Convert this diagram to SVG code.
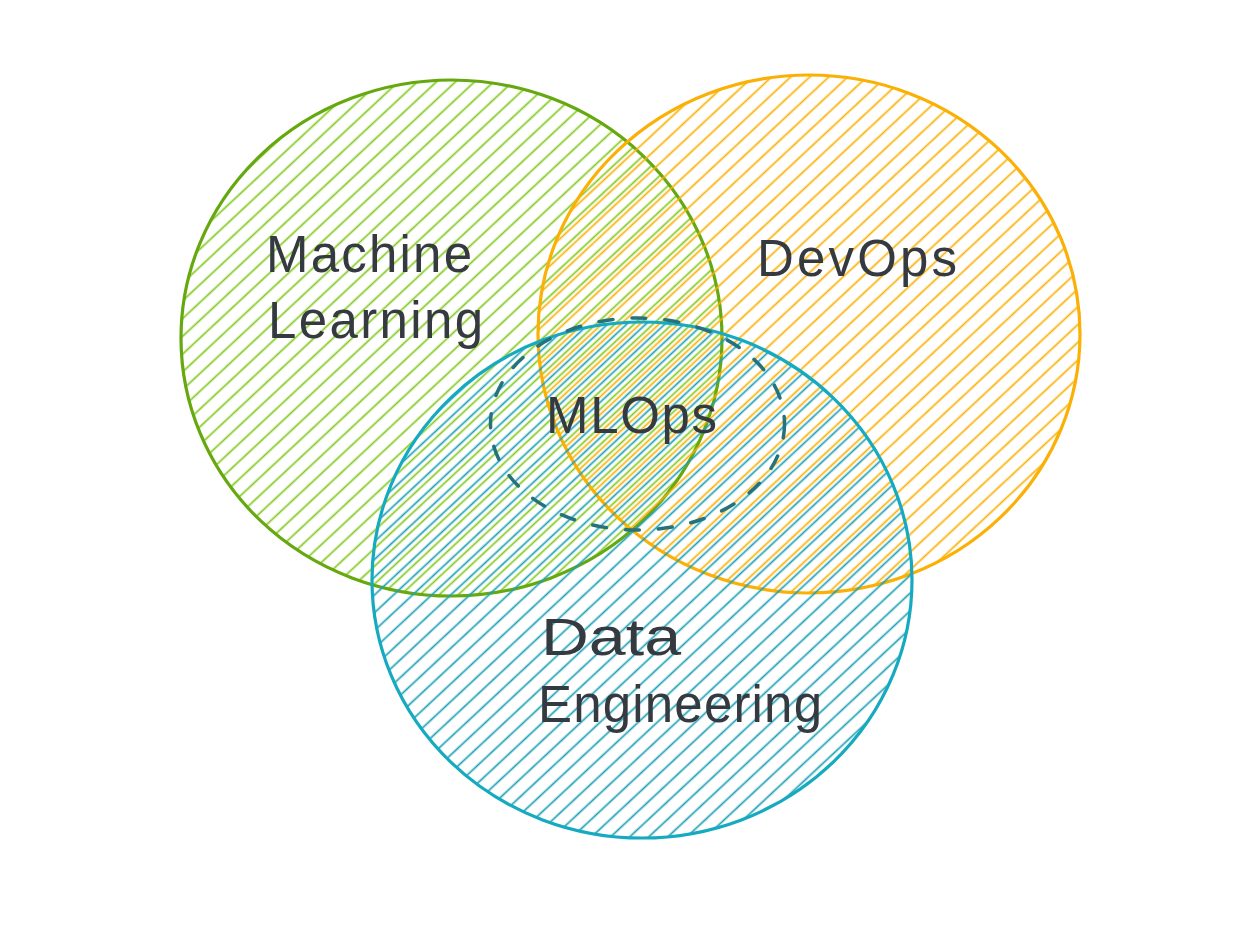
<svg xmlns="http://www.w3.org/2000/svg" width="1257" height="939" viewBox="0 0 1257 939">
  <style>
    .lbl { font-family: "Liberation Sans", "DejaVu Sans", sans-serif; font-size: 51px; fill: #343a40; }
    .ring { stroke-width: 3.2; }
  </style>
  <defs>
    <pattern id="hGreen" patternUnits="userSpaceOnUse" width="13" height="13" patternTransform="rotate(47)">
      <line x1="6.5" y1="-1" x2="6.5" y2="14" stroke="#82c91e" stroke-width="1.7"/>
    </pattern>
    <pattern id="hOrange" patternUnits="userSpaceOnUse" width="13" height="13" patternTransform="rotate(47) translate(4 0)">
      <line x1="6.5" y1="-1" x2="6.5" y2="14" stroke="#fab005" stroke-width="1.7"/>
    </pattern>
    <pattern id="hBlue" patternUnits="userSpaceOnUse" width="13" height="13" patternTransform="rotate(47) translate(8 0)">
      <line x1="6.5" y1="-1" x2="6.5" y2="14" stroke="#1c9fb5" stroke-width="1.7"/>
    </pattern>
  </defs>

  <g id="machine-learning">
    <ellipse cx="451.5" cy="338" rx="270.5" ry="258" fill="url(#hGreen)" stroke="#66a80f" class="ring"/>
  </g>
  <g id="devops">
    <ellipse cx="809" cy="334" rx="271" ry="259" fill="url(#hOrange)" stroke="#fab005" class="ring"/>
  </g>
  <g id="data-engineering">
    <ellipse cx="642" cy="580" rx="270" ry="258" fill="url(#hBlue)" stroke="#15aabf" class="ring"/>
  </g>
  <g id="mlops">
    <ellipse cx="637.5" cy="424" rx="147" ry="106" fill="none" stroke="#25727f" stroke-width="3.5" stroke-dasharray="14 19" stroke-linecap="round"/>
  </g>

  <g id="labels">
    <text class="lbl" x="266" y="272" textLength="206" lengthAdjust="spacing">Machine</text>
    <text class="lbl" x="268" y="338" textLength="215" lengthAdjust="spacing">Learning</text>
    <text class="lbl" x="757" y="276" textLength="200" lengthAdjust="spacing">DevOps</text>
    <text class="lbl" x="546" y="433" textLength="171" lengthAdjust="spacing">MLOps</text>
    <text class="lbl" x="541" y="655" textLength="140" lengthAdjust="spacingAndGlyphs">Data</text>
    <text class="lbl" x="538" y="722" textLength="284" lengthAdjust="spacing">Engineering</text>
  </g>
</svg>
